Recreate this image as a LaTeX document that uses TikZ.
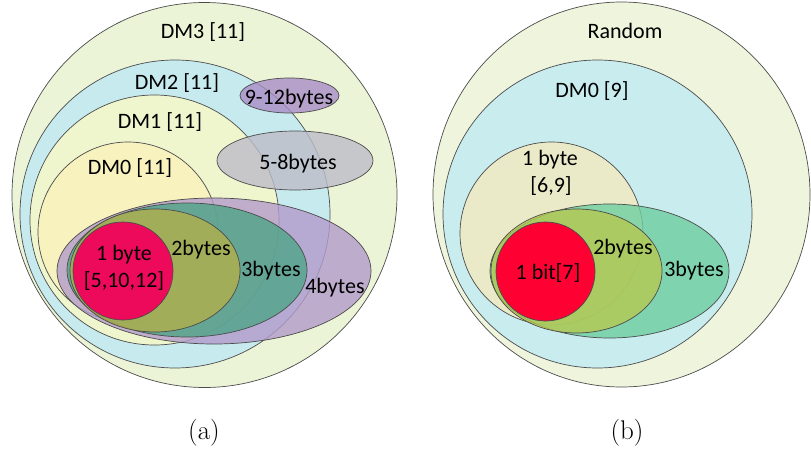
\documentclass[tikz,border=0pt]{standalone}
\usepackage{fontspec}
\newfontfamily\labelfont{Carlito}
\definecolor{dmthree}{HTML}{EBF4D6}
\definecolor{dmtwo}{HTML}{C6EAEE}
\definecolor{dmone}{HTML}{EFF5CD}
\definecolor{dmzero}{HTML}{F8F2BF}
\definecolor{fourb}{HTML}{B39BCB}
\definecolor{threeb}{HTML}{4FA487}
\definecolor{twob}{HTML}{B0B04A}
\definecolor{oneb}{HTML}{EE0A5A}
\definecolor{fiveb}{HTML}{BDBCC8}
\definecolor{nineb}{HTML}{A88DC6}
\definecolor{rnd}{HTML}{EEF5DC}
\definecolor{bdmzero}{HTML}{C9ECEF}
\definecolor{bonebyte}{HTML}{EAEAC8}
\definecolor{bthree}{HTML}{6DCFA0}
\definecolor{btwo}{HTML}{B5C850}
\definecolor{bbit}{HTML}{FF0033}
\begin{document}
\begin{tikzpicture}[x=1pt,y=-1pt,
  region/.style={draw=black!70, line width=0.7pt},
  trans/.style={region, fill opacity=0.8},
  lbl/.style={font=\labelfont\fontsize{22}{26}\selectfont, anchor=base, inner sep=0pt},
  capt/.style={font=\fontsize{27}{30}\selectfont, inner sep=0pt}]
\useasboundingbox (0,0) rectangle (811,452);
% ---------- (a) ----------
\draw[region, fill=dmthree] (204.5,195) ellipse [x radius=192.5pt, y radius=192.5pt];
\draw[region, fill=dmtwo] (175,214) ellipse [x radius=155pt, y radius=154pt];
\draw[region, fill=dmone] (154.5,220) ellipse [x radius=124.5pt, y radius=125pt];
\draw[region, fill=dmzero] (128,232) ellipse [x radius=90pt, y radius=90pt];
\draw[trans, fill=nineb] (289.5,95.5) ellipse [x radius=49.5pt, y radius=17.5pt];
\draw[trans, fill=fiveb] (295,160.5) ellipse [x radius=78pt, y radius=29.5pt];
\draw[trans, fill=fourb] (214,271) ellipse [x radius=157pt, y radius=73pt];
\draw[trans, fill=threeb] (187,270) ellipse [x radius=120pt, y radius=67pt];
\draw[trans, fill=twob] (155,270.5) ellipse [x radius=85pt, y radius=61.5pt];
\draw[region, fill=oneb] (123,271) ellipse [x radius=50pt, y radius=49pt];
\node[lbl] (dm3) at (203,39) {DM3 [11]};
\node[lbl] (dm2) at (177,89) {DM2 [11]};
\node[lbl] (dm1) at (160,128) {DM1 [11]};
\node[lbl] (dm0) at (130,174) {DM0 [11]};
\node[lbl] (b912) at (289,104) {9-12bytes};
\node[lbl] (b58) at (298,169) {5-8bytes};
\node[lbl] (b1a) at (124,260) {1 byte};
\node[lbl] (b1b) at (124,287) {[5,10,12]};
\node[lbl] (b2) at (201,255) {2bytes};
\node[lbl] (b3) at (271,276) {3bytes};
\node[lbl] (b4) at (335,293) {4bytes};
\node[capt] (capa) at (204,433) {(a)};
% ---------- (b) ----------
\draw[region, fill=rnd] (621.5,194.5) ellipse [x radius=188.5pt, y radius=192.5pt];
\draw[region, fill=bdmzero] (597.5,214) ellipse [x radius=154.5pt, y radius=154pt];
\draw[region, fill=bonebyte] (551.5,233.5) ellipse [x radius=91.5pt, y radius=91.5pt];
\draw[trans, fill=bthree] (609.5,271) ellipse [x radius=119.5pt, y radius=67pt];
\draw[trans, fill=btwo] (576.5,271) ellipse [x radius=85.5pt, y radius=62pt];
\draw[region, fill=bbit] (545.5,271.5) ellipse [x radius=49.5pt, y radius=49.5pt];
\node[lbl] (rnd) at (625,39) {Random};
\node[lbl] (bdm0) at (592,97) {DM0 [9]};
\node[lbl] (bb1a) at (550,165) {1 byte};
\node[lbl] (bb1b) at (551,192) {[6,9]};
\node[lbl] (bb2) at (623,254) {2bytes};
\node[lbl] (bb3) at (694,276) {3bytes};
\node[lbl] (bbit) at (548,279) {1 bit[7]};
\node[capt] (capb) at (627,433) {(b)};
\end{tikzpicture}
\end{document}
